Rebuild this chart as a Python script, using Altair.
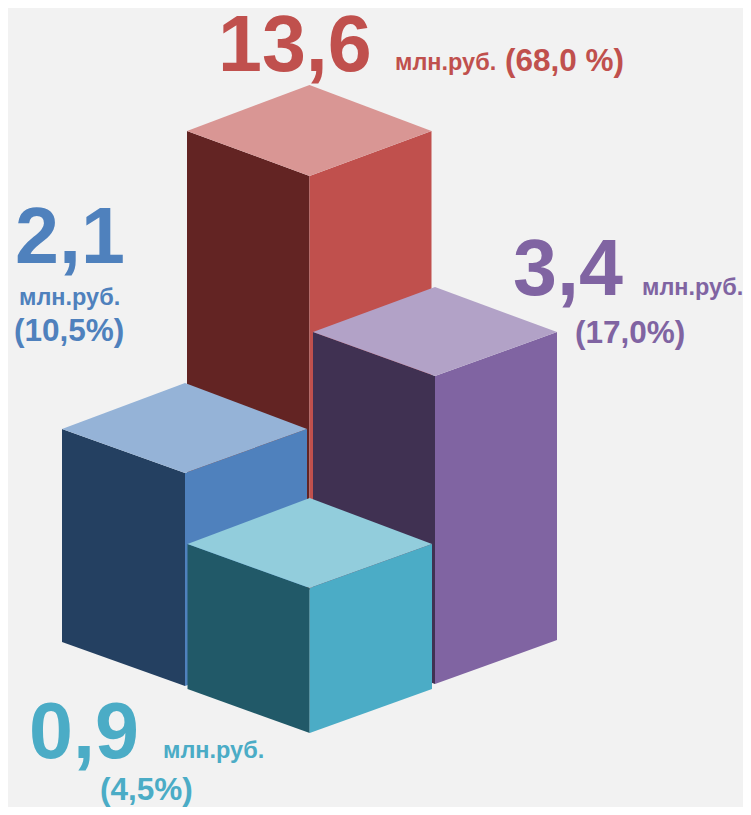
import altair as alt
import pandas as pd

BG = "#f2f2f2"
FONT = "Liberation Sans"

# Bars, back to front
bars = ["red", "blue", "purple", "teal"]
centre_x = [309.5, 185, 435, 309.7]
left_x = [187, 62, 313, 187.5]
right_x = [431.5, 307, 557, 432]
apex_y = [85, 383, 287, 498]
side_y = [131, 429, 332, 544]
front_y = [176, 473, 376, 588]
side_bottom_y = [545, 642, 640, 689]
front_bottom_y = [590, 686, 684, 733]
top_colors = ["#D99694", "#95B3D7", "#B2A2C7", "#92CDDC"]
left_colors = ["#632423", "#244061", "#403152", "#215968"]
right_colors = ["#C0504D", "#4F81BD", "#8064A2", "#4BACC6"]

# Labels
label_text = ["13,6", "млн.руб.", "(68,0 %)",
              "2,1", "млн.руб.", "(10,5%)",
              "3,4", "млн.руб.", "(17,0%)",
              "0,9", "млн.руб.", "(4,5%)"]
label_x = [218, 395, 505, 15, 19, 14, 513, 642, 575, 29, 163, 100]
label_y = [71, 70, 71, 263, 305, 341, 295, 295, 343, 758, 758, 800]
label_size = [79, 23.5, 31.5, 79, 23.5, 31.5, 79, 23.5, 31.5, 79, 23.5, 31.5]
label_color = ["#C0504D"] * 3 + ["#4F81BD"] * 3 + ["#8064A2"] * 3 + ["#4BACC6"] * 3

x_scale = alt.Scale(domain=[8, 743], range=[0, 735], nice=False, zero=False)
y_scale = alt.Scale(domain=[8, 807], range=[0, 799], nice=False, zero=False)


def face(rows, color):
    df = pd.DataFrame(rows, columns=["px", "top", "bottom"])
    return alt.Chart(df).mark_area(color=color, interpolate="linear", orient="vertical").encode(
        x=alt.X("px:Q", scale=x_scale, axis=None),
        y=alt.Y("top:Q", scale=y_scale, axis=None),
        y2="bottom:Q",
    )


layers = []
for i in range(len(bars)):
    cx, lx, rx = centre_x[i], left_x[i], right_x[i]
    layers.append(face([(lx, side_y[i], side_bottom_y[i]),
                        (cx, front_y[i], front_bottom_y[i])], left_colors[i]))
    layers.append(face([(cx, front_y[i], front_bottom_y[i]),
                        (rx, side_y[i], side_bottom_y[i])], right_colors[i]))
    layers.append(face([(lx, side_y[i], side_y[i]),
                        (cx, apex_y[i], front_y[i]),
                        (rx, side_y[i], side_y[i])], top_colors[i]))

labels_df = pd.DataFrame({"t": label_text, "px": label_x, "py": label_y,
                          "s": label_size, "c": label_color})
text = alt.Chart(labels_df).mark_text(align="left", baseline="alphabetic", font=FONT,
                                      fontWeight="bold").encode(
    x=alt.X("px:Q", scale=x_scale, axis=None),
    y=alt.Y("py:Q", scale=y_scale, axis=None),
    text="t:N",
    size=alt.Size("s:Q", scale=None, legend=None),
    color=alt.Color("c:N", scale=None, legend=None),
)

chart = alt.layer(*layers, text).properties(
    width=735, height=799, background=BG, padding=0,
    autosize=alt.AutoSizeParams(type="none"),
).configure_view(stroke=None)

chart.save("out.html", embed_options={"renderer": "svg", "actions": False})
